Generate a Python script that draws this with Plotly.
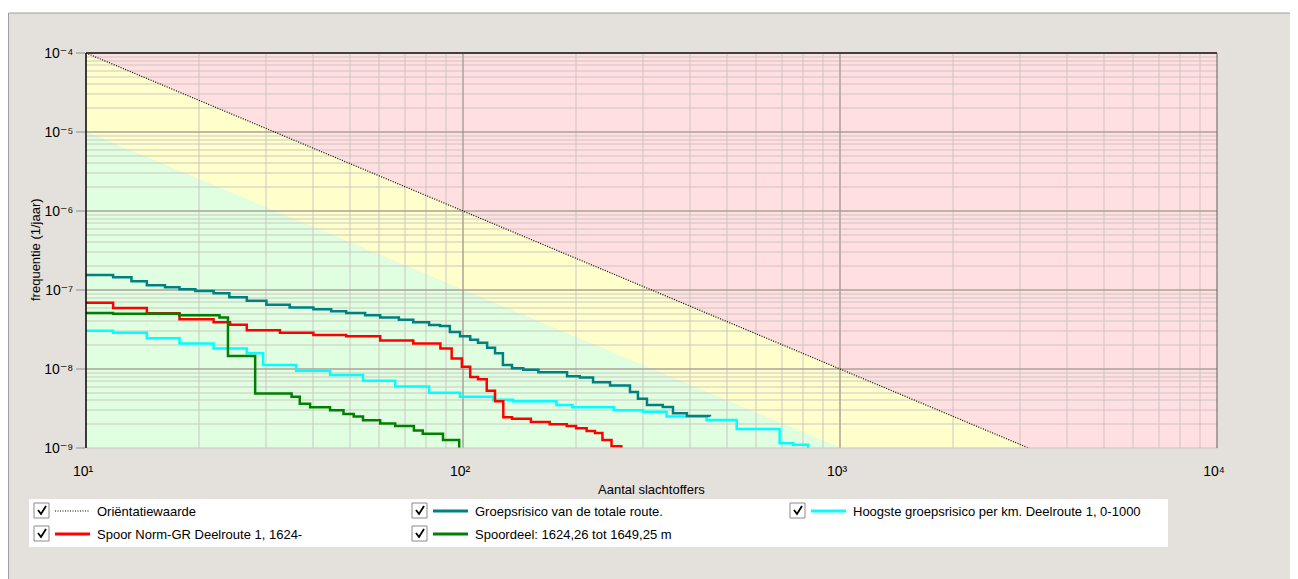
import plotly.graph_objects as go

# ---------------- data ----------------
ORIENT_N = [10, 10000]
ORIENT_F = [1e-4, 1e-10]
ZONE_FACTOR = 0.1  # lower limit of the yellow zone relative to the orientation value

GR_TOTAAL_N = [10, 11.8, 13.2, 14.5, 16.2, 17.7, 19.5, 21.8, 24.0, 26.7, 30.1, 34.7,
               40.1, 44.7, 49.0, 55.0, 60.3, 67.6, 73.8, 81.3, 86.9, 92.3, 98.2, 104.5,
               109.6, 115.9, 121.6, 127.6, 134.9, 144.5, 158.5, 188.8, 204.2, 221.3,
               245.5, 277.3, 291.1, 307.6, 338.8, 360.6, 392.6, 451.9]
GR_TOTAAL_F = [1.55e-7, 1.45e-7, 1.29e-7, 1.15e-7, 1.08e-7, 1.02e-7, 9.7e-8, 9.1e-8,
               8.1e-8, 7.3e-8, 6.5e-8, 6.0e-8, 5.7e-8, 5.4e-8, 5.1e-8, 4.8e-8, 4.5e-8,
               4.2e-8, 3.9e-8, 3.6e-8, 3.5e-8, 2.95e-8, 2.6e-8, 2.35e-8, 2.15e-8,
               1.86e-8, 1.58e-8, 1.12e-8, 1.02e-8, 9.8e-9, 9.1e-9, 8.1e-9, 7.8e-9,
               6.8e-9, 6.2e-9, 5.1e-9, 4.2e-9, 3.5e-9, 3.3e-9, 2.75e-9, 2.55e-9, 2.5e-9]

HOOGSTE_N = [10, 11.8, 14.5, 17.7, 21.8, 26.7, 29.5, 36.1, 44.4, 54.3, 66.1, 81.3,
             98.2, 120.2, 135.8, 177.0, 195.0, 251.2, 300.6, 346.7, 442.6, 532.1,
             691.8, 751.6, 822.2]
HOOGSTE_F = [3.05e-8, 2.88e-8, 2.45e-8, 2.11e-8, 1.82e-8, 1.58e-8, 1.12e-8, 9.5e-9,
             8.4e-9, 7.1e-9, 6.0e-9, 5.0e-9, 4.47e-9, 4.07e-9, 3.9e-9, 3.5e-9, 3.27e-9,
             3.0e-9, 2.88e-9, 2.5e-9, 2.26e-9, 1.74e-9, 1.15e-9, 1.1e-9, 9e-10]

SPOOR_N = [10, 11.8, 14.5, 17.7, 21.8, 24.1, 26.7, 32.7, 40.1, 49.0, 60.3, 73.8, 87.1,
           93.3, 99.3, 104.5, 109.6, 115.6, 121.6, 127.9, 134.9, 151.4, 169.8, 188.4,
           199.5, 212.8, 223.9, 234.4, 247.7, 263.0]
SPOOR_F = [6.9e-8, 5.9e-8, 5.07e-8, 4.27e-8, 3.9e-8, 3.63e-8, 3.09e-8, 2.88e-8, 2.69e-8,
           2.6e-8, 2.29e-8, 2.11e-8, 1.82e-8, 1.36e-8, 1.07e-8, 7.9e-9, 7.4e-9, 5.3e-9,
           3.9e-9, 2.45e-9, 2.34e-9, 2.14e-9, 2.0e-9, 1.9e-9, 1.78e-9, 1.64e-9, 1.55e-9,
           1.26e-9, 1.05e-9, 9e-10]

SPOORDEEL_N = [10, 11.8, 17.7, 22.6, 23.8, 28.1, 35.1, 36.9, 39.3, 44.4, 48.2, 51.3,
               54.3, 60.3, 66.1, 74.1, 78.2, 88.5, 97.7]
SPOORDEEL_F = [5.1e-8, 5.0e-8, 4.8e-8, 4.5e-8, 1.46e-8, 4.9e-9, 4.47e-9, 3.63e-9,
               3.27e-9, 3.0e-9, 2.7e-9, 2.5e-9, 2.24e-9, 2.04e-9, 1.9e-9, 1.66e-9,
               1.51e-9, 1.26e-9, 9e-10]

X_TICKS = [10, 100, 1000, 10000]
X_TICKTEXT = ["10¹", "10²", "10³", "10⁴"]
Y_TICKS = [1e-9, 1e-8, 1e-7, 1e-6, 1e-5, 1e-4]
Y_TICKTEXT = ["10⁻⁹", "10⁻⁸", "10⁻⁷", "10⁻⁶", "10⁻⁵", "10⁻⁴"]

LEGEND_LABELS = ["Oriëntatiewaarde", "Groepsrisico van de totale route.",
                 "Hoogste groepsrisico per km. Deelroute 1, 0-1000",
                 "Spoor Norm-GR Deelroute 1, 1624-", "Spoordeel: 1624,26 tot 1649,25 m"]

# ---------------- layout geometry (page pixels) ----------------
BODY = 8                      # browser body margin
PAGE_W, PAGE_H = 1298, 579
PL, PT, PR, PB = 86, 53, 1217, 448   # plot area in page pixels
W, H = PAGE_W - BODY, PAGE_H - BODY
ML, MT = PL - BODY, PT - BODY
MR = W - (PR - BODY)
MB = H - (PB - BODY)
PW = PR - PL
PH = PB - PT
FONT = "Liberation Sans, Arial, DejaVu Sans, sans-serif"


def px(x):
    return (x - PL) / PW


def py(y):
    return (PB - y) / PH


def fmt(v):
    return "{:.14f}".format(v)


fig = go.Figure()

# colored risk zones derived from the orientation line
n0, n1 = ORIENT_N
f0, f1 = ORIENT_F
g0, g1 = f0 * ZONE_FACTOR, f1 * ZONE_FACTOR
red_path = f"M {fmt(n0)},{fmt(f0)} L {fmt(n1)},{fmt(f1)} L {fmt(n1)},{fmt(1e-3)} L {fmt(n0)},{fmt(1e-3)} Z"
yel_path = f"M {fmt(n0)},{fmt(f0)} L {fmt(n1)},{fmt(f1)} L {fmt(n1)},{fmt(g1)} L {fmt(n0)},{fmt(g0)} Z"
grn_path = f"M {fmt(n0)},{fmt(g0)} L {fmt(n1)},{fmt(g1)} L {fmt(n1)},{fmt(1e-13)} L {fmt(n0)},{fmt(1e-13)} Z"

shapes = [
    # grey panel
    dict(type="rect", xref="paper", yref="paper", x0=px(8.5), x1=px(1291), y0=py(600), y1=py(13),
         fillcolor="#e4e1dc", line=dict(color="#a0a0a0", width=1), layer="below"),
    dict(type="path", xref="x", yref="y", path=red_path, fillcolor="#ffdfe0",
         line=dict(width=0), layer="below"),
    dict(type="path", xref="x", yref="y", path=yel_path, fillcolor="#ffffcc",
         line=dict(width=0), layer="below"),
    dict(type="path", xref="x", yref="y", path=grn_path, fillcolor="#e0ffe0",
         line=dict(width=0), layer="below"),
    # frame of plot area
    dict(type="line", xref="paper", yref="paper", x0=0, x1=1, y0=0, y1=0,
         line=dict(color="#c8c4be", width=1)),
    dict(type="line", xref="paper", yref="paper", x0=0, x1=1, y0=1, y1=1,
         line=dict(color="#404040", width=2)),
    dict(type="line", xref="paper", yref="paper", x0=1, x1=1, y0=0, y1=1,
         line=dict(color="#606060", width=1)),
    dict(type="line", xref="paper", yref="paper", x0=0, x1=0, y0=0, y1=1,
         line=dict(color="#000000", width=1.5)),
    # legend box
    dict(type="rect", xref="paper", yref="paper", x0=px(29), x1=px(1168), y0=py(547), y1=py(499),
         fillcolor="white", line=dict(width=0)),
]

annotations = []

# traces
fig.add_trace(go.Scatter(x=ORIENT_N, y=ORIENT_F, mode="lines",
                         line=dict(color="black", width=1.2, dash="1px,1.5px"),
                         name=LEGEND_LABELS[0]))
fig.add_trace(go.Scatter(x=HOOGSTE_N, y=HOOGSTE_F, mode="lines", line_shape="hv",
                         line=dict(color="#00ffff", width=2.5), name=LEGEND_LABELS[2]))
fig.add_trace(go.Scatter(x=SPOOR_N, y=SPOOR_F, mode="lines", line_shape="hv",
                         line=dict(color="#ff0000", width=2.5), name=LEGEND_LABELS[3]))
fig.add_trace(go.Scatter(x=SPOORDEEL_N, y=SPOORDEEL_F, mode="lines", line_shape="hv",
                         line=dict(color="#008000", width=2.5), name=LEGEND_LABELS[4]))
fig.add_trace(go.Scatter(x=GR_TOTAAL_N, y=GR_TOTAAL_F, mode="lines", line_shape="hv",
                         line=dict(color="#008080", width=2.5), name=LEGEND_LABELS[1]))

# manual legend with checkboxes
legend_items = [
    (0, 0, LEGEND_LABELS[0], "black", "1px,1.5px", 1),
    (1, 0, LEGEND_LABELS[1], "#008080", "solid", 3),
    (2, 0, LEGEND_LABELS[2], "#00ffff", "solid", 3),
    (0, 1, LEGEND_LABELS[3], "#ff0000", "solid", 3),
    (1, 1, LEGEND_LABELS[4], "#008000", "solid", 3),
]
col_x = [34, 412, 790]
row_y = [511, 534]
for c, r, label, color, dash, width in legend_items:
    x0 = col_x[c]
    yc = row_y[r]
    shapes.append(dict(type="rect", xref="paper", yref="paper", x0=px(x0), x1=px(x0 + 15),
                       y0=py(yc + 7), y1=py(yc - 8), fillcolor="white",
                       line=dict(color="#8a8a8a", width=1)))
    shapes.append(dict(type="path", xref="paper", yref="paper",
                       path=f"M {px(x0+4)},{py(yc-1)} L {px(x0+7)},{py(yc+3)} L {px(x0+12)},{py(yc-5)}",
                       line=dict(color="black", width=1.8)))
    shapes.append(dict(type="line", xref="paper", yref="paper", x0=px(x0 + 21), x1=px(x0 + 56),
                       y0=py(yc), y1=py(yc), line=dict(color=color, width=width, dash=dash)))
    annotations.append(dict(x=px(x0 + 61), y=py(yc), xref="paper", yref="paper", text=label,
                            showarrow=False, xanchor="left", yanchor="middle",
                            font=dict(family=FONT, size=13, color="black")))

# axis titles
annotations.append(dict(x=px(651), y=py(490), xref="paper", yref="paper",
                        text="Aantal slachtoffers", showarrow=False, xanchor="center",
                        yanchor="middle", font=dict(family=FONT, size=13, color="black")))
annotations.append(dict(x=px(35), y=py(250), xref="paper", yref="paper",
                        text="frequentie (1/jaar)", showarrow=False, textangle=-90,
                        xanchor="center", yanchor="middle",
                        font=dict(family=FONT, size=13, color="black")))

fig.update_layout(
    width=W, height=H,
    margin=dict(l=ML, r=MR, t=MT, b=MB, pad=0),
    paper_bgcolor="white",
    plot_bgcolor="#e0ffe0",
    showlegend=False,
    shapes=shapes,
    annotations=annotations,
    font=dict(family=FONT, size=13, color="black"),
)

MAJOR_GRID = "rgba(160,150,140,0.55)"
MINOR_GRID = "rgba(200,195,190,0.45)"
fig.update_xaxes(type="log", range=[1, 4], tickmode="array", tickvals=X_TICKS,
                 ticktext=X_TICKTEXT, showgrid=True, gridcolor=MAJOR_GRID,
                 gridwidth=1.5, zeroline=False, showline=False, ticks="",
                 ticklabelstandoff=13, ticklabelshift=-3,
                 tickfont=dict(family=FONT, size=14, color="black"),
                 minor=dict(dtick="D1", showgrid=True, gridcolor=MINOR_GRID,
                            gridwidth=2, ticks=""))
fig.update_yaxes(type="log", range=[-9, -4], tickmode="array", tickvals=Y_TICKS,
                 ticktext=Y_TICKTEXT, showgrid=True, gridcolor=MAJOR_GRID,
                 gridwidth=1.5, zeroline=False, showline=False, ticks="outside", ticklen=9,
                 tickcolor="#b8b8b8", tickwidth=2, ticklabelstandoff=0,
                 tickfont=dict(family=FONT, size=14, color="black"),
                 minor=dict(dtick="D1", showgrid=True, gridcolor=MINOR_GRID,
                            gridwidth=2, ticks=""))

fig.write_html("out.html")
